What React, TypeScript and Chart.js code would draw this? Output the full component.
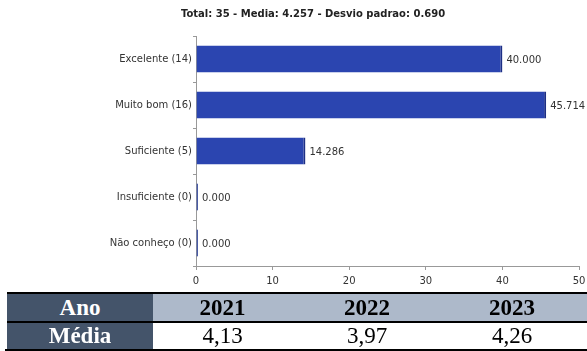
import React, { useEffect, useRef } from "react";
import { Chart, registerables } from "chart.js";

Chart.register(...registerables);

const categories = ["Excelente (14)", "Muito bom (16)", "Suficiente (5)", "Insuficiente (0)", "Não conheço (0)"];
const percentages = [40.0, 45.714, 14.286, 0.0, 0.0];
const xMin = 0;
const xMax = 50;
const xStep = 10;
const chartTitle = "Total: 35 - Media: 4.257 - Desvio padrao: 0.690";
const tableRowHeaders = ["Ano", "Média"];
const tableYears = ["2021", "2022", "2023"];
const tableMeans = ["4,13", "3,97", "4,26"];

const FONT = "'DejaVu Sans', sans-serif";
const SERIF = "'Liberation Serif', 'Times New Roman', serif";

const titlePlugin = {
  id: "customTitle",
  afterDraw(chart: any) {
    const ctx = chart.ctx;
    ctx.save();
    ctx.font = `bold 10px ${FONT}`;
    ctx.fillStyle = "#222";
    ctx.textAlign = "center";
    ctx.textBaseline = "middle";
    ctx.fillText(chartTitle, 313, 14);
    ctx.restore();
  },
};

const valueLabelPlugin = {
  id: "valueLabels",
  afterDatasetsDraw(chart: any) {
    const ctx = chart.ctx;
    const meta = chart.getDatasetMeta(0);
    ctx.save();
    ctx.font = `10px ${FONT}`;
    ctx.fillStyle = "#333";
    ctx.textAlign = "left";
    ctx.textBaseline = "middle";
    meta.data.forEach((bar: any, i: number) => {
      const v = chart.data.datasets[0].data[i] as number;
      ctx.fillText(v.toFixed(3), bar.x + 4, bar.y + 1);
    });
    ctx.restore();
  },
};

function BarChart() {
  const ref = useRef<HTMLCanvasElement | null>(null);
  useEffect(() => {
    if (!ref.current) return;
    const chart = new Chart(ref.current, {
      type: "bar",
      data: {
        labels: categories,
        datasets: [
          {
            data: percentages,
            backgroundColor: "#2b45b0",
            borderColor: "#1d2f85",
            borderWidth: { top: 0, bottom: 0, left: 0, right: 2 },
            borderSkipped: false,
            minBarLength: 2,
            categoryPercentage: 1,
            barPercentage: 0.59,
          },
        ],
      },
      options: {
        indexAxis: "y",
        animation: false,
        responsive: false,
        maintainAspectRatio: false,
        layout: { padding: { top: 36, right: 8, left: 0, bottom: 4 } },
        plugins: {
          legend: { display: false },
          title: { display: false },
          tooltip: { enabled: false },
        },
        scales: {
          x: {
            type: "linear",
            min: xMin,
            max: xMax,
            ticks: {
              stepSize: xStep,
              font: { family: FONT, size: 10 },
              color: "#333",
              padding: 5,
              maxRotation: 0,
            },
            grid: {
              drawOnChartArea: false,
              drawTicks: true,
              tickLength: 4,
              color: "#999",
            },
            border: { display: true, color: "#999", width: 1 },
            afterFit(scale: any) {
              scale.height = 22;
              scale.paddingRight = 0;
              scale.paddingLeft = 0;
            },
          },
          y: {
            type: "category",
            ticks: {
              font: { family: FONT, size: 10 },
              color: "#333",
              padding: 1,
            },
            grid: {
              offset: true,
              drawOnChartArea: false,
              drawTicks: true,
              tickLength: 3,
              color: "#999",
            },
            border: { display: true, color: "#999", width: 1 },
            afterFit(scale: any) {
              scale.width = 196;
            },
          },
        },
      },
      plugins: [titlePlugin, valueLabelPlugin],
    } as any);
    return () => chart.destroy();
  }, []);
  return <canvas ref={ref} width={587} height={292} style={{ position: "absolute", left: 0, top: 0, width: 587, height: 292 }} />;
}

const colCells = [
  { left: 153, width: 139 },
  { left: 292, width: 150 },
  { left: 442, width: 140 },
];

function MeanTable() {
  const rowTop = [294, 322];
  const rowH = [27, 27];
  return (
    <div style={{ position: "absolute", left: 0, top: 0, width: 587, height: 351 }}>
      <div style={{ position: "absolute", left: 153, top: rowTop[0], width: 434, height: rowH[0], background: "#adb9ca" }} />
      <div style={{ position: "absolute", left: 7, top: rowTop[0], width: 146, height: 55, background: "#44546a" }} />
      <div style={{ position: "absolute", left: 7, top: 292, width: 580, height: 2, background: "#000" }} />
      <div style={{ position: "absolute", left: 7, top: 321, width: 580, height: 2, background: "#000" }} />
      <div style={{ position: "absolute", left: 5, top: 349, width: 582, height: 2, background: "#000" }} />
      {tableRowHeaders.map((h, r) => (
        <div
          key={h}
          style={{
            position: "absolute",
            left: 7,
            width: 146,
            top: rowTop[r],
            height: rowH[r],
            lineHeight: rowH[r] + "px",
            textAlign: "center",
            fontFamily: SERIF,
            fontWeight: "bold",
            fontSize: 23,
            color: "#fff",
          }}
        >
          {h}
        </div>
      ))}
      {tableYears.map((y, i) => (
        <div
          key={y}
          style={{
            position: "absolute",
            left: colCells[i].left,
            width: colCells[i].width,
            top: rowTop[0],
            height: rowH[0],
            lineHeight: rowH[0] + "px",
            textAlign: "center",
            fontFamily: SERIF,
            fontWeight: "bold",
            fontSize: 23,
            color: "#000",
          }}
        >
          {y}
        </div>
      ))}
      {tableMeans.map((m, i) => (
        <div
          key={i}
          style={{
            position: "absolute",
            left: colCells[i].left,
            width: colCells[i].width,
            top: rowTop[1],
            height: rowH[1],
            lineHeight: rowH[1] + "px",
            textAlign: "center",
            fontFamily: SERIF,
            fontSize: 23,
            color: "#000",
          }}
        >
          {m}
        </div>
      ))}
    </div>
  );
}

export default function App() {
  return (
    <div style={{ position: "fixed", left: 0, top: 0, width: 587, height: 351, background: "#fff", overflow: "hidden" }}>
      <BarChart />
      <MeanTable />
    </div>
  );
}
